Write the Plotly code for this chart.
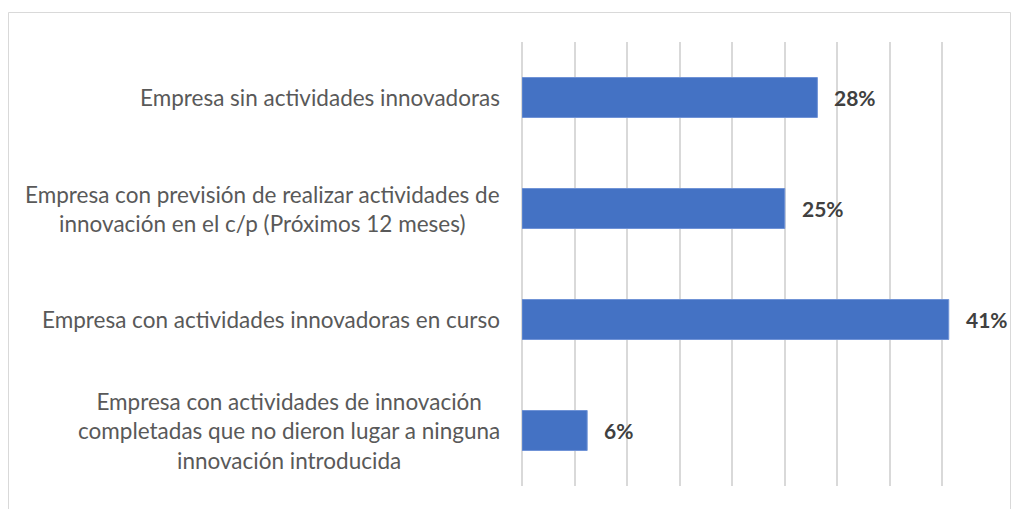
import plotly.graph_objects as go

categorias = [
    "Empresa sin actividades innovadoras",
    "Empresa con previsión de realizar actividades de<br>innovación en el c/p (Próximos 12 meses)",
    "Empresa con actividades innovadoras en curso",
    "Empresa con actividades de innovación<br>completadas que no dieron lugar a ninguna<br>innovación introducida",
]
valores = [28.1, 25.0, 40.6, 6.2]
etiquetas = ["28%", "25%", "41%", "6%"]

W, H = 1011, 509
ml, mr, mt, mb = 522, 16, 42, 23
pw, ph = W - ml - mr, H - mt - mb

fig = go.Figure()
fig.add_trace(go.Bar(
    x=valores, y=categorias, orientation="h",
    marker=dict(color="#4472C4", line=dict(color="#6F93D6", width=1)),
    width=0.36, hoverinfo="skip",
))

# etiquetas de datos
for v, c, t in zip(valores, categorias, etiquetas):
    fig.add_annotation(x=v, y=c, text="<b>" + t + "</b>", showarrow=False,
                       xanchor="left", xshift=15,
                       font=dict(family="Lato", size=21, color="#404040"))

# etiquetas de categorias centradas
for c in categorias:
    fig.add_annotation(x=0, xref="paper", y=c, text=c, showarrow=False,
                       xanchor="right", align="center", xshift=-20,
                       font=dict(family="Lato", size=22.5, color="#595959"))

# borde del grafico
fig.add_shape(type="rect", xref="paper", yref="paper",
              x0=(8.5 - ml) / pw, x1=(1010.5 - ml) / pw,
              y0=-0.3, y1=1 + (mt - 12.5) / ph,
              line=dict(color="#D9D9D9", width=1), layer="below")

fig.update_xaxes(range=[0, 45], dtick=5, showgrid=True, gridcolor="#D9D9D9",
                 gridwidth=1.5, zeroline=True, zerolinecolor="#D9D9D9",
                 zerolinewidth=1.5, showticklabels=False, showline=False)
fig.update_yaxes(autorange="reversed", showticklabels=False, showgrid=False,
                 zeroline=False, showline=False)
fig.update_layout(width=W, height=H, margin=dict(l=ml, r=mr, t=mt, b=mb),
                  plot_bgcolor="white", paper_bgcolor="white",
                  showlegend=False, bargap=0.64)

# quitar el margen por defecto de la pagina
fig.write_html("out.html", config={"displayModeBar": False},
               post_script="document.body.style.margin='0';document.body.style.overflow='hidden';")
